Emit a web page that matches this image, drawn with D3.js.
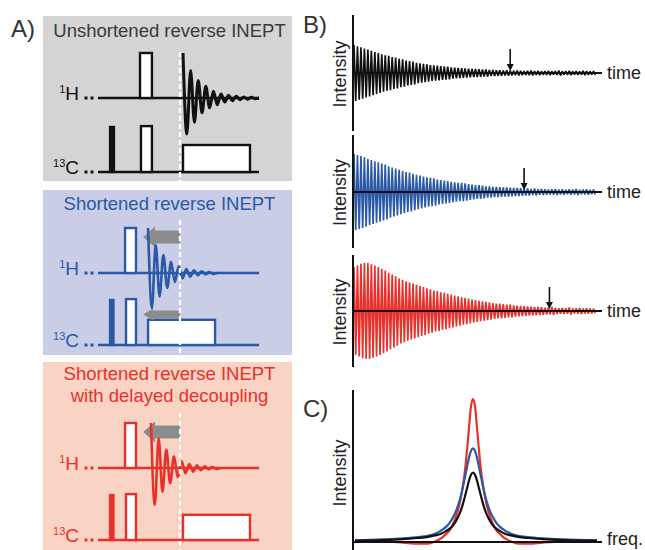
<!DOCTYPE html>
<html>
<head>
<meta charset="utf-8">
<script src="https://cdn.jsdelivr.net/npm/d3@7"></script>
<style>
  body { margin: 0; background: #fff; }
  text { font-family: "Liberation Sans", Arial, sans-serif; }
</style>
</head>
<body>
<svg id="fig" width="645" height="550"></svg>
<script>
// ---------------- data ----------------
// A) pulse sequences, time in sequence units (0..100)
const seqTitles = [
  ["Unshortened reverse INEPT"],
  ["Shortened reverse INEPT"],
  ["Shortened reverse INEPT", "with delayed decoupling"]
];
const hPulse = [[26.1, 33.5], [16.8, 23.6], [16.8, 23.6]];
const cHardPulse = [[7.5, 9.9], [7.5, 9.6], [7.5, 9.6]];
const cPulse = [[26.7, 33.5], [17.4, 23.6], [17.4, 23.6]];
const decouple = [[52.8, 94.4], [31.1, 72.7], [52.8, 94.4]];
const decoupleLevel = [0.6, 0.56, 0.56];
const acqMark = 50.9;
const fidSpan = [[52.8, 100], [31.1, 73.9], [32.9, 75.8]];
// FID extrema (alternating maxima / minima)
const fidExtrema = [
  [1.0, -0.8, 0.61, -0.54, 0.39, -0.33, 0.26, -0.22, 0.15, -0.15, 0.09, -0.09, 0.06, -0.06, 0.04, -0.04, 0.025, -0.025, 0.015, -0.015, 0],
  [1.0, -0.78, 0.62, -0.52, 0.4, -0.33, 0.25, -0.2, 0.15, -0.12, 0.09, -0.08, 0.06, -0.05, 0.04, -0.03, 0.02, -0.02, 0],
  [1.0, -0.82, 0.66, -0.53, 0.41, -0.34, 0.26, -0.21, 0.15, -0.12, 0.09, -0.08, 0.06, -0.05, 0.04, -0.03, 0.02, -0.02, 0]
];
const shiftTip = [null, 28, 28];      // grey arrows move to here
const shiftOnC = [false, true, false];

// B) FID envelopes, one amplitude per cycle
const fidBlack = [0.49,0.47,0.45,0.43,0.41,0.39,0.37,0.35,0.33,0.31,
  0.30,0.28,0.27,0.25,0.24,0.22,0.21,0.20,0.18,0.17,
  0.16,0.15,0.14,0.135,0.13,0.12,0.115,0.11,0.10,0.095,
  0.09,0.085,0.08,0.075,0.07,0.07,0.065,0.06,0.06,0.055,
  0.055,0.05,0.05,0.045,0.05,0.045,0.04,0.045,0.04,0.035,
  0.04,0.045,0.035,0.04,0.03,0.035,0.04,0.03,0.035,0.045,
  0.03,0.035,0.04,0.03,0.035,0.03,0.04,0.035,0.03,0.035];
const fidBlue = [0.67,0.65,0.63,0.61,0.58,0.56,0.54,0.52,0.50,0.48,
  0.45,0.43,0.41,0.39,0.37,0.35,0.34,0.32,0.30,0.29,
  0.27,0.26,0.25,0.24,0.22,0.21,0.20,0.19,0.18,0.17,
  0.16,0.16,0.15,0.14,0.13,0.12,0.12,0.11,0.10,0.10,
  0.09,0.09,0.085,0.08,0.08,0.075,0.07,0.07,0.065,0.06,
  0.06,0.055,0.06,0.05,0.055,0.05,0.045,0.05,0.055,0.045,
  0.05,0.04,0.05,0.045,0.055,0.04,0.045,0.05,0.04,0.045];
const fidRed = [0.77,0.80,0.83,0.84,0.84,0.82,0.80,0.77,0.74,0.71,
  0.67,0.64,0.61,0.57,0.55,0.52,0.50,0.48,0.46,0.44,
  0.42,0.40,0.38,0.36,0.35,0.33,0.32,0.30,0.29,0.27,
  0.26,0.24,0.23,0.22,0.20,0.19,0.18,0.17,0.16,0.15,
  0.14,0.13,0.13,0.12,0.11,0.11,0.10,0.095,0.09,0.085,
  0.08,0.075,0.07,0.07,0.065,0.06,0.06,0.07,0.055,0.05,
  0.055,0.05,0.06,0.045,0.05,0.055,0.045,0.05,0.045,0.04];
const fidArrowAt = [45, 49, 56.3];

// C) spectra
const freq = [-118,-90,-70,-55,-45,-38,-32,-27,-23,-19,-16,-13,-10,-8,-6,-4,-2,0,2,4,6,8,10,13,16,19,23,27,32,38,45,55,70,90,124];
const specBlack = [0.01,0.014,0.02,0.028,0.036,0.046,0.058,0.076,0.095,0.125,0.16,0.205,0.268,0.32,0.375,0.43,0.47,0.486,0.47,0.43,0.375,0.32,0.268,0.205,0.16,0.125,0.095,0.076,0.058,0.046,0.036,0.028,0.02,0.014,0.01];
const specBlue = [0.012,0.018,0.025,0.034,0.044,0.058,0.08,0.106,0.138,0.185,0.234,0.30,0.387,0.454,0.524,0.59,0.637,0.655,0.637,0.59,0.524,0.454,0.387,0.30,0.234,0.185,0.138,0.106,0.08,0.058,0.044,0.034,0.025,0.018,0.012];
const specRed = [0.008,0.004,-0.004,-0.012,-0.012,0.004,0.025,0.055,0.085,0.14,0.20,0.28,0.40,0.50,0.64,0.80,0.95,1.0,0.95,0.80,0.64,0.50,0.40,0.28,0.20,0.14,0.085,0.055,0.025,0.004,-0.012,-0.012,-0.004,0.004,0.008];

// ---------------- drawing ----------------
const svg = d3.select("#fig");
const colors = ["#111111", "#2a59a8", "#e8312b"];
const titleColors = ["#3a3a3a", "#2a59a8", "#e8312b"];
const boxFill = ["#d4d4d4", "#c9cde6", "#f9d3c4"];
const arrowGrey = "#8c8c8c";

// panel A
const boxes = [
  {y0: 16, y1: 181, titleY: [37], hY: 98, cY: 172},
  {y0: 190, y1: 355, titleY: [210], hY: 273, cY: 345},
  {y0: 362, y1: 560, titleY: [380, 402], hY: 468, cY: 540}
];
const sx = d3.scaleLinear().domain([0, 100]).range([98, 259]);
const amp = d3.scaleLinear().domain([0, 1]).range([0, 45]);

svg.append("text").attr("x", 11).attr("y", 37).attr("font-size", 24).attr("fill", "#333").text("A)");

boxes.forEach((b, k) => {
  const col = colors[k];
  const g = svg.append("g");
  g.append("rect").attr("x", 43).attr("y", b.y0).attr("width", 249).attr("height", b.y1 - b.y0).attr("fill", boxFill[k]);
  seqTitles[k].forEach((t, j) => {
    g.append("text").attr("x", 169.5).attr("y", b.titleY[j]).attr("text-anchor", "middle")
      .attr("font-size", 18.5).attr("fill", titleColors[k]).text(t);
  });
  // channel labels
  [["1", "H", b.hY], ["13", "C", b.cY]].forEach(([sup, nuc, y]) => {
    const t = g.append("text").attr("x", 79).attr("y", y + 2).attr("text-anchor", "end").attr("fill", col);
    t.append("tspan").attr("font-size", 11).attr("dy", -7).text(sup);
    t.append("tspan").attr("font-size", 19).attr("dy", 7).text(nuc);
    [sx(0) - 12, sx(0) - 6].forEach(x => g.append("rect").attr("x", x - 1.5).attr("y", y - 1.5).attr("width", 3).attr("height", 3).attr("fill", col));
    g.append("line").attr("x1", sx(0)).attr("x2", sx(100)).attr("y1", y).attr("y2", y)
      .attr("stroke", col).attr("stroke-width", 2.6);
  });
  const pulse = (span, y, h, fill) => g.append("rect")
    .attr("x", sx(span[0])).attr("y", y - amp(h)).attr("width", sx(span[1]) - sx(span[0])).attr("height", amp(h))
    .attr("fill", fill).attr("stroke", col).attr("stroke-width", 2.4);
  pulse(hPulse[k], b.hY, 1, "#fff");
  pulse(cHardPulse[k], b.cY, 1, col);
  pulse(cPulse[k], b.cY, 1.02, "#fff");
  pulse(decouple[k], b.cY, decoupleLevel[k], "#fff");

  // grey shift arrows
  const arrow = (tip, y, hh, bh, head) => {
    const x0 = sx(tip), x1 = sx(acqMark);
    g.append("path").attr("fill", arrowGrey)
      .attr("d", `M${x0},${y} L${x0 + head},${y - hh} L${x0 + head},${y - bh} L${x1},${y - bh} L${x1},${y + bh} L${x0 + head},${y + bh} L${x0 + head},${y + hh} Z`);
  };
  if (shiftTip[k] != null) {
    arrow(shiftTip[k], b.hY - amp(0.8), 10.5, 6.5, 12);
    if (shiftOnC[k]) arrow(shiftTip[k], b.cY - amp(0.68), 6, 4, 10);
  }

  // FID
  const ext = fidExtrema[k], span = fidSpan[k];
  const pts = ext.map((v, i) => [span[0] + i * (span[1] - span[0]) / (ext.length - 1), v]);
  g.append("path").datum(pts)
    .attr("d", d3.line().x(d => sx(d[0])).y(d => b.hY - amp(d[1])).curve(d3.curveMonotoneX))
    .attr("fill", "none").attr("stroke", col).attr("stroke-width", k === 0 ? 3 : 2.6);

  // dashed acquisition marker
  g.append("line").attr("x1", sx(acqMark)).attr("x2", sx(acqMark))
    .attr("y1", b.hY - amp(k === 0 ? 1.02 : (k === 1 ? 1.18 : 1.22))).attr("y2", b.y1)
    .attr("stroke", "#fff").attr("stroke-width", 2.2).attr("stroke-dasharray", "5,3");
});

// panel B
svg.append("text").attr("x", 303).attr("y", 33).attr("font-size", 24).attr("fill", "#333").text("B)");
const bx = d3.scaleLinear().domain([0, 70]).range([354, 597]);
const panelsB = [
  {data: fidBlack, zero: 73, top: 15, bottom: 131, col: colors[0]},
  {data: fidBlue, zero: 192, top: 135, bottom: 248, col: colors[1]},
  {data: fidRed, zero: 311, top: 255, bottom: 367, col: colors[2]}
];
panelsB.forEach((p, k) => {
  const by = d3.scaleLinear().domain([-1, 1]).range([p.zero + 57, p.zero - 57]);
  const pts = [];
  p.data.forEach((a, i) => { pts.push([i, a]); pts.push([i + 0.5, -a]); });
  svg.append("path").datum(pts)
    .attr("d", d3.line().x(d => bx(d[0])).y(d => by(d[1])))
    .attr("fill", "none").attr("stroke", p.col).attr("stroke-width", 1.7).attr("stroke-linejoin", "bevel");
  svg.append("line").attr("x1", 353).attr("x2", 353).attr("y1", p.top).attr("y2", p.bottom)
    .attr("stroke", "#111").attr("stroke-width", 2);
  svg.append("line").attr("x1", 353).attr("x2", 602).attr("y1", by(0)).attr("y2", by(0))
    .attr("stroke", "#111").attr("stroke-width", 2);
  svg.append("text").attr("x", 607).attr("y", by(0) + 6).attr("font-size", 18).attr("fill", "#222").text("time");
  svg.append("text").attr("transform", `translate(346,${(p.top + p.bottom) / 2 + 1}) rotate(-90)`)
    .attr("text-anchor", "middle").attr("font-size", 18).attr("fill", "#222").text("Intensity");
  // marker arrow
  const ax = bx(fidArrowAt[k]);
  svg.append("line").attr("x1", ax).attr("x2", ax).attr("y1", by(0) - 24).attr("y2", by(0) - 8)
    .attr("stroke", "#111").attr("stroke-width", 1.6);
  svg.append("path").attr("d", `M${ax - 3.5},${by(0) - 9} L${ax + 3.5},${by(0) - 9} L${ax},${by(0) - 2} Z`).attr("fill", "#111");
});

// panel C
svg.append("text").attr("x", 303).attr("y", 417).attr("font-size", 24).attr("fill", "#333").text("C)");
const cx = d3.scaleLinear().domain([-118, 124]).range([355, 597]);
const cy = d3.scaleLinear().domain([0, 1]).range([542, 399]);
const specLine = d3.line().x((d, i) => cx(freq[i])).y(d => cy(d)).curve(d3.curveMonotoneX);
[[specRed, colors[2]], [specBlue, colors[1]], [specBlack, colors[0]]].forEach(([s, c]) => {
  svg.append("path").datum(s).attr("d", specLine).attr("fill", "none").attr("stroke", c).attr("stroke-width", 2.2);
});
svg.append("line").attr("x1", 353).attr("x2", 353).attr("y1", 390).attr("y2", 550).attr("stroke", "#111").attr("stroke-width", 2);
svg.append("line").attr("x1", 353).attr("x2", 602).attr("y1", cy(0)).attr("y2", cy(0)).attr("stroke", "#111").attr("stroke-width", 2);
svg.append("text").attr("x", 607).attr("y", cy(0) + 3).attr("font-size", 18).attr("fill", "#222").text("freq.");
svg.append("text").attr("transform", "translate(346,473) rotate(-90)")
  .attr("text-anchor", "middle").attr("font-size", 18).attr("fill", "#222").text("Intensity");
</script>
</body>
</html>
